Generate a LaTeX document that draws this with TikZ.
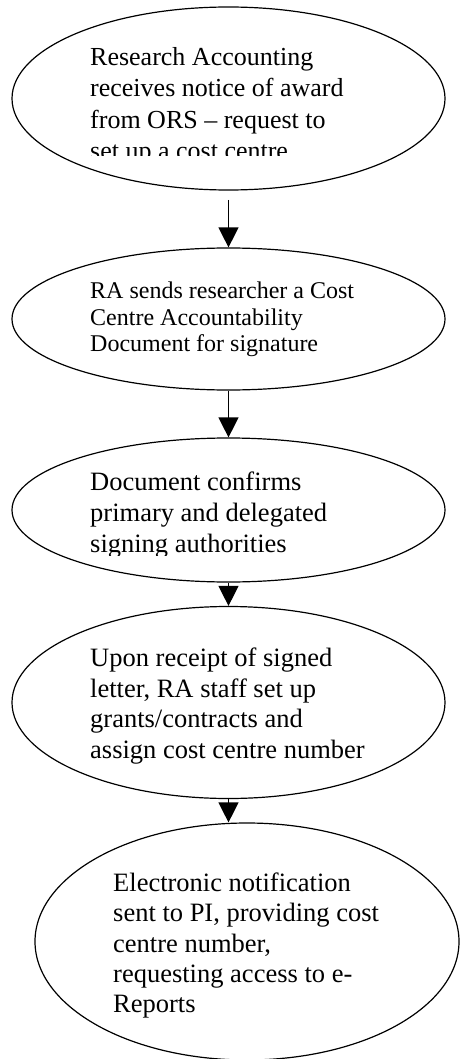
\documentclass[tikz,border=0pt]{standalone}
\usepackage{fontspec}
\setmainfont{Liberation Serif}
\usetikzlibrary{shapes.geometric,arrows.meta}
\newcommand\flowtext[3]{\parbox[t]{360pt}{\raggedright\fontsize{#1}{#2}\selectfont #3}}
\tikzset{
  oval/.style={draw, ellipse, line width=1.2pt, inner sep=0pt},
  flow/.style={line width=1.3pt, -{Triangle[width=20pt,length=20pt]}},
  txt/.style={anchor=base west, inner sep=0pt}
}
\begin{document}
\begin{tikzpicture}[x=1pt,y=-1pt]
\useasboundingbox (0,0) rectangle (461,1059);
% ellipses
\node[oval, minimum width=433pt, minimum height=183pt] (e1) at (228.5,98.5) {};
\node[oval, minimum width=433pt, minimum height=142pt] (e2) at (228.5,319) {};
\node[oval, minimum width=433pt, minimum height=144pt] (e3) at (228.5,510) {};
\node[oval, minimum width=433pt, minimum height=192pt] (e4) at (228.5,702.5) {};
\node[oval, minimum width=424pt, minimum height=237pt] (e5) at (247,941.5) {};
% texts
\begin{scope}
\clip (0,0) rectangle (461,156);
\node[txt] (t1) at (90,65.7) {\flowtext{26}{31.3}{Research Accounting\\receives notice of award\\from ORS – request to\\set up a cost centre}};
\end{scope}
\node[txt] (t2) at (90,298.3) {\flowtext{24}{26.7}{RA sends researcher a Cost\\Centre Accountability\\Document for signature}};
\begin{scope}
\clip (0,400) rectangle (461,555);
\node[txt] (t3) at (90,490.7) {\flowtext{26.5}{30.7}{Document confirms\\primary and delegated\\signing authorities}};
\end{scope}
\node[txt] (t4) at (90,666.7) {\flowtext{26.5}{30.6}{Upon receipt of signed\\letter, RA staff set up\\grants/contracts and\\assign cost centre number}};
\node[txt] (t5) at (113,891.7) {\flowtext{26.5}{30.2}{Electronic notification\\sent to PI, providing cost\\centre number,\\requesting access to e-\\Reports}};
% connectors
\coordinate (a1) at (228.5,200);
\draw[flow] (a1) -- (e2.north);
\draw[flow] (e2.south) -- (e3.north);
\draw[flow] (e3.south) -- (e4.north);
\draw[flow] (e4.south) -- (e4.south |- e5.north);
\end{tikzpicture}
\end{document}
